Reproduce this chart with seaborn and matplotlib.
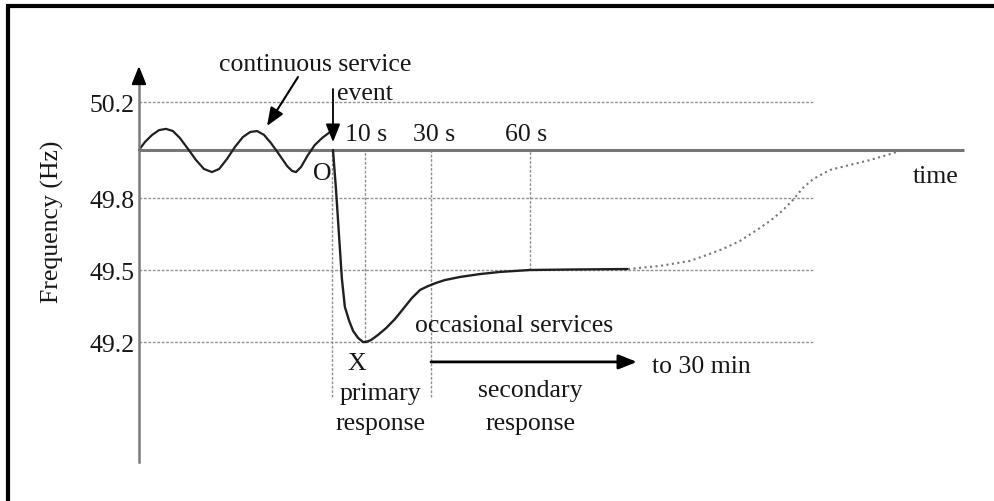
import matplotlib.pyplot as plt
import seaborn as sns
from matplotlib.lines import Line2D

sns.set_theme(style="white")
plt.rcParams['font.family'] = ['Liberation Serif', 'DejaVu Serif']

# --- DATA (time in s from the event, frequency in Hz) ---
wave_t = [-58.5, -56.7, -54.5, -52.4, -50.3, -48.2, -46.1, -43.6, -41.2, -38.8,
          -36.4, -34.2, -31.8, -29.4, -27.0, -24.8, -22.7, -20.6, -18.5, -16.1,
          -13.6, -12.1, -10.9, -9.4, -7.3, -5.2, -3.0, -0.6]
wave_f = [50.000, 50.033, 50.063, 50.083, 50.088, 50.079, 50.050, 50.004, 49.958, 49.921,
          49.908, 49.921, 49.963, 50.013, 50.054, 50.075, 50.079, 50.063, 50.029, 49.983,
          49.933, 49.913, 49.908, 49.929, 49.979, 50.021, 50.050, 50.075]

response_t = [0.3, 1.2, 2.1, 3.0, 3.9, 5.2, 6.4, 7.9, 9.4, 10.3, 11.8, 13.9, 16.4,
              19.1, 21.8, 24.2, 26.7, 29.1, 31.5, 34.2, 38.8, 44.8, 50.9, 60.0, 72.1, 89.7]
response_f = [50.000, 49.838, 49.650, 49.463, 49.346, 49.288, 49.246, 49.217, 49.200, 49.200,
              49.208, 49.229, 49.258, 49.296, 49.342, 49.383, 49.417, 49.433, 49.446, 49.458,
              49.471, 49.483, 49.492, 49.500, 49.502, 49.504]

recovery_t = [89.7, 99.4, 108.5, 114.5, 118.5, 123.6, 128.8, 132.7, 136.4, 139.7,
              142.7, 145.8, 150.9, 157.0, 163.0, 169.1, 173.0]
recovery_f = [49.504, 49.517, 49.538, 49.567, 49.588, 49.621, 49.667, 49.704, 49.746, 49.792,
              49.842, 49.879, 49.917, 49.938, 49.958, 49.983, 50.000]

freq_ticks = [50.2, 49.8, 49.5, 49.2]
tick_labels = ["50.2", "49.8", "49.5", "49.2"]
nominal_f = 50.0
marker_t = [0, 10, 30, 60]
marker_bottom = [48.97, 49.2, 48.97, 49.5]
marker_labels = ["10 s", "30 s", "60 s"]
marker_label_t = [3.9, 24.5, 52.4]

# --- FIGURE ---
FS = 18.5
TXT = '#161616'
GRID = '#909090'
fig = plt.figure(figsize=(9.94, 5.02), dpi=100)
ax = fig.add_axes([0, 0, 1, 1])
ax.set_xlim(-100.606, 200.606)
ax.set_ylim(48.5375, 50.62917)
ax.patch.set_alpha(0)

# y axis as a spine placed at the origin of the sketch
for s in ['top', 'right', 'bottom']:
    ax.spines[s].set_visible(False)
ax.spines['left'].set_position(('data', -58.5))
ax.spines['left'].set_bounds(48.7, 50.3)
ax.spines['left'].set_color('#7a7a7a')
ax.spines['left'].set_linewidth(1.8)
ax.set_xticks([])
ax.set_yticks(freq_ticks, tick_labels)
ax.tick_params(axis='y', length=0, pad=3, labelsize=FS, labelcolor=TXT)
ax.set_ylabel("Frequency (Hz)", fontsize=FS, color=TXT)
ax.yaxis.set_label_coords(64 / 994, 1 - 222 / 502)
ax.annotate('', xy=(-58.5, 50.35), xytext=(-58.5, 50.29),
            arrowprops=dict(arrowstyle='-|>,head_length=0.55,head_width=0.22',
                            mutation_scale=20, color='black', lw=1.5,
                            shrinkA=0, shrinkB=0))

# grid and markers
ax.hlines(freq_ticks, -58.5, 145.8, colors=GRID, linestyles=(0, (2, 1.2)), lw=1.0)
ax.vlines(marker_t, marker_bottom, nominal_f, colors=GRID, linestyles=(0, (2, 1.2)), lw=1.0)
ax.hlines(nominal_f, -58.5, 191.5, colors='#777777', lw=2.2)

# curves
sns.lineplot(x=wave_t, y=wave_f, ax=ax, color='#202020', lw=1.6, estimator=None)
sns.lineplot(x=response_t, y=response_f, ax=ax, color='#202020', lw=1.7, estimator=None)
sns.lineplot(x=recovery_t, y=recovery_f, ax=ax, color='#777777', lw=1.5,
             linestyle=':', estimator=None)

arrow = dict(arrowstyle='-|>,head_length=0.55,head_width=0.22', mutation_scale=20,
             color='black', shrinkA=0, shrinkB=0)
ax.annotate('', xy=(0.3, 50.033), xytext=(0.3, 50.254), arrowprops=dict(arrow, lw=1.3))
ax.annotate('', xy=(-19.7, 50.1), xytext=(-10.3, 50.304), arrowprops=dict(arrow, lw=1.5))
ax.annotate('', xy=(92.4, 49.117), xytext=(30, 49.117), arrowprops=dict(arrow, lw=2.0))

# texts
kw = dict(fontsize=FS, color=TXT, va='baseline')
ax.text(-5.2, 50.333, "continuous service", ha='center', **kw)
ax.text(1.5, 50.2125, "event", ha='left', **kw)
for t, lab in zip(marker_label_t, marker_labels):
    ax.text(t, 50.042, lab, ha='left', **kw)
ax.text(-5.8, 49.879, "O", ha='left', **kw)
ax.text(176.1, 49.867, "time", ha='left', **kw)
ax.text(7.6, 49.0875, "X", ha='center', **kw)
ax.text(14.8, 48.9625, "primary", ha='center', **kw)
ax.text(14.8, 48.8375, "response", ha='center', **kw)
ax.text(25.2, 49.246, "occasional services", ha='left', **kw)
ax.text(97.0, 49.075, "to 30 min", ha='left', **kw)
ax.text(60.0, 48.975, "secondary", ha='center', **kw)
ax.text(60.3, 48.8375, "response", ha='center', **kw)

# screenshot frame (top and left edges)
fig.add_artist(Line2D([6 / 994, 1], [1 - 7 / 502] * 2, color='black', lw=3,
                      solid_capstyle='butt', transform=fig.transFigure))
fig.add_artist(Line2D([8 / 994] * 2, [0, 1 - 5 / 502], color='black', lw=3,
                      solid_capstyle='butt', transform=fig.transFigure))

fig.savefig("out.png", dpi=100)
